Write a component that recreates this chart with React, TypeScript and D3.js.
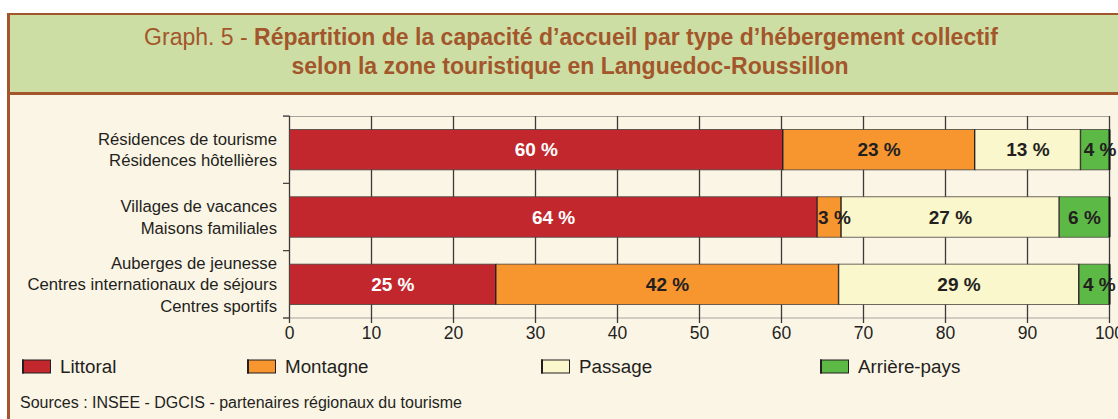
import React from "react";
import * as d3 from "d3";

// categories (multi-line labels), zones, and series values (% of capacity)
const categories = [
  ["Résidences de tourisme", "Résidences hôtellières"],
  ["Villages de vacances", "Maisons familiales"],
  ["Auberges de jeunesse", "Centres internationaux de séjours", "Centres sportifs"],
];
const zones = ["Littoral", "Montagne", "Passage", "Arrière-pays"];
const littoral = [60.2, 64.4, 25.2];
const montagne = [23.4, 2.9, 41.8];
const passage = [12.9, 26.6, 29.3];
const arriere = [3.5, 6.1, 3.7];
const xTicks = [0, 10, 20, 30, 40, 50, 60, 70, 80, 90, 100];

const colors = ["#C1272D", "#F7962F", "#FAF7CC", "#5DB946"];
const labelColors = ["#ffffff", "#231f20", "#231f20", "#231f20"];
const legendX = [22, 247, 541, 820];

const W = 1118;
const H = 419;
const brown = "#A3562B";
const font = "'Liberation Sans', Arial, sans-serif";

const App = () => {
  const rows = categories.map((c, i) => ({
    id: i,
    Littoral: littoral[i],
    Montagne: montagne[i],
    Passage: passage[i],
    "Arrière-pays": arriere[i],
  }));
  const stacked = d3.stack<any>().keys(zones)(rows);

  const x = d3.scaleLinear().domain([0, 100]).range([289.5, 1109.5]);
  const y = d3
    .scaleBand<number>()
    .domain(rows.map((r) => r.id))
    .range([116, 318])
    .paddingInner(0.4)
    .paddingOuter(0.2);

  const [y0, y1] = y.range();
  const bounds = d3.range(categories.length + 1).map((i) => y0 + i * y.step());

  return (
    <div style={{ position: "absolute", left: 0, top: 0 }}>
      <svg width={W} height={H} style={{ display: "block", fontFamily: font }}>
        <rect x={0} y={0} width={W} height={H} fill="#ffffff" />
        {/* frame */}
        <rect x={8} y={94} width={W} height={H} fill="#FBF5E6" />
        <rect x={8} y={14} width={W} height={79} fill="#CCDEA3" />
        <line x1={7} x2={W} y1={14} y2={14} stroke={brown} strokeWidth={2} />
        <line x1={7} x2={W} y1={93.5} y2={93.5} stroke={brown} strokeWidth={3} />
        <line x1={8.5} x2={8.5} y1={13} y2={H} stroke={brown} strokeWidth={3} />

        {/* title */}
        <text x={571} y={45} textAnchor="middle" fontSize={23} fill={brown}>
          <tspan>Graph. 5 - </tspan>
          <tspan fontWeight="bold">Répartition de la capacité d’accueil par type d’hébergement collectif</tspan>
        </text>
        <text x={570} y={74} textAnchor="middle" fontSize={23} fontWeight="bold" fill={brown}>
          selon la zone touristique en Languedoc-Roussillon
        </text>

        {/* grid */}
        <line x1={283} x2={x(100)} y1={y0 + 0.5} y2={y0 + 0.5} stroke="#a7a39b" />
        <line x1={283} x2={x(100)} y1={y1} y2={y1} stroke="#a7a39b" />
        {xTicks.map((t) => (
          <line key={t} x1={x(t)} x2={x(t)} y1={y0} y2={y1 + 5} stroke="#3c3a38" strokeWidth={1.3} />
        ))}
        {bounds.map((b, i) => (
          <line key={i} x1={283} x2={x(0)} y1={b} y2={b} stroke="#3c3a38" strokeWidth={1.2} />
        ))}

        {/* bars */}
        {stacked.map((s, k) => (
          <g key={s.key}>
            {s.map((d, i) => (
              <rect
                key={i}
                x={x(d[0])}
                y={y(i)}
                width={x(d[1]) - x(d[0])}
                height={y.bandwidth()}
                fill={colors[k]}
                stroke="#4a4440"
                strokeWidth={0.8}
              />
            ))}
            {s.map((d, i) => (
              <line
                key={"e" + i}
                x1={x(d[1])}
                x2={x(d[1])}
                y1={y(i)}
                y2={(y(i) as number) + y.bandwidth()}
                stroke="#111"
                strokeWidth={2}
              />
            ))}
          </g>
        ))}
        {stacked.map((s, k) =>
          s.map((d, i) => (
            <text
              key={s.key + i}
              x={(x(d[0]) + x(d[1])) / 2 + (d[1] - d[0] < 5 ? 5 : 0)}
              y={(y(i) as number) + y.bandwidth() / 2 + 6.5}
              textAnchor="middle"
              fontSize={19}
              fontWeight="bold"
              fill={labelColors[k]}
            >
              {Math.round(d[1] - d[0])} %
            </text>
          ))
        )}

        {/* category labels */}
        {categories.map((lines, i) => {
          const cy = (y(i) as number) + y.bandwidth() / 2;
          const top = cy - ((lines.length - 1) * 21.5) / 2;
          return lines.map((l, j) => (
            <text key={i + "-" + j} x={277} y={top + j * 21.5 + 6} textAnchor="end" fontSize={16.7} fill="#231f20">
              {l}
            </text>
          ));
        })}

        {/* x tick labels */}
        {xTicks.map((t) => (
          <text key={t} x={x(t)} y={339} textAnchor="middle" fontSize={17.5} fill="#231f20">
            {t}
          </text>
        ))}

        {/* legend */}
        {zones.map((z, k) => (
          <g key={z} transform={`translate(${legendX[k]},359.5)`}>
            <rect x={0.5} y={0.5} width={28} height={13} fill={colors[k]} stroke="#231f20" strokeWidth={1} />
            <line x1={1} x2={1} y1={0} y2={14} stroke="#231f20" strokeWidth={2} />
            <text x={38} y={13} fontSize={18.8} fill="#231f20">
              {z}
            </text>
          </g>
        ))}

        <text x={20} y={408} fontSize={16} fill="#231f20">
          Sources : INSEE - DGCIS - partenaires régionaux du tourisme
        </text>
      </svg>
    </div>
  );
};

export default App;
